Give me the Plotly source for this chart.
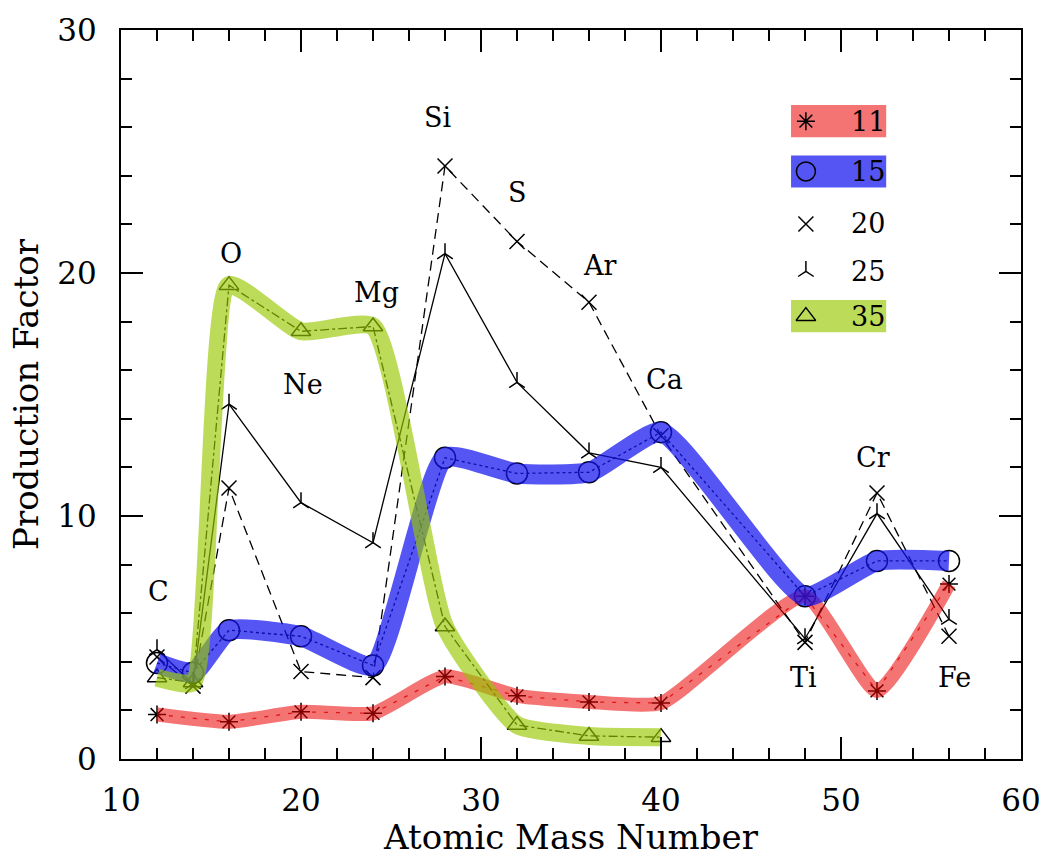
import plotly.graph_objects as go

# ---------------- data ----------------
mass = [12, 14, 16, 20, 24, 28, 32, 36, 40, 48, 52, 56]
pf_11 = [1.83, None, 1.53, 1.94, 1.88, 3.4, 2.6, 2.35, 2.3, 6.7, 2.8, 7.2]
pf_15 = [3.95, 3.55, 5.3, 5.05, 3.85, 12.4, 11.75, 11.8, 13.45, 6.7, 8.15, 8.15]
pf_20 = [4.2, 3.0, 11.15, 3.6, 3.35, 24.4, 21.3, 18.8, 13.3, 4.8, 10.95, 5.05]
pf_25 = [4.5, 3.1, 14.6, 10.55, 8.9, 20.8, 15.5, 12.6, 12.0, 4.95, 10.1, 5.75]
pf_35 = [3.35, 3.15, 19.5, 17.6, 17.8, 5.45, 1.4, 0.95, 0.9, None, None, None]

series_names = ["11", "15", "20", "25", "35"]
series_vals = [pf_11, pf_15, pf_20, pf_25, pf_35]

elements = ["C", "O", "Ne", "Mg", "Si", "S", "Ar", "Ca", "Ti", "Cr", "Fe"]
elem_x = [12.1, 16.1, 20.1, 24.2, 27.6, 32.0, 36.6, 40.2, 47.9, 51.8, 56.3]
elem_y = [6.9, 20.8, 15.4, 19.2, 26.4, 23.3, 20.3, 15.6, 3.35, 12.4, 3.35]

# ---------------- styles ----------------
FONT = "DejaVu Serif"
line_dash = {"11": "4px,8px", "15": "dot", "20": "10px,6px", "25": "solid", "35": "dashdot"}
line_col = {"11": "rgba(200,0,0,0.8)", "15": "black", "20": "black", "25": "black", "35": "black"}
symbols = {"11": "asterisk-open", "15": "circle-open", "20": "x-thin-open",
           "25": "y-up-open", "35": "triangle-up-open"}
msize = {"11": 15, "15": 21, "20": 15, "25": 13, "35": 17}
band_color = {"11": "rgba(235,0,0,0.55)", "15": "rgba(20,20,240,0.72)",
              "35": "rgba(150,200,0,0.65)"}
band_width = {"11": 14, "15": 20, "35": 18}

fig = go.Figure()

# thin original lines + markers
for name, vals in zip(series_names, series_vals):
    fig.add_trace(go.Scatter(
        x=mass, y=vals, mode="lines+markers", name=name, connectgaps=True,
        line=dict(color=line_col[name], width=1.3, dash=line_dash[name]),
        marker=dict(symbol=symbols[name], size=msize[name], color="black",
                    line=dict(color="black", width=1.5)),
        showlegend=False, hoverinfo="skip"))

# highlighter bands on top
for name, vals in zip(series_names, series_vals):
    if name in band_color:
        fig.add_trace(go.Scatter(
            x=mass, y=vals, mode="lines", connectgaps=True,
            line=dict(color=band_color[name], width=band_width[name],
                      shape="spline", smoothing=0.5),
            showlegend=False, hoverinfo="skip"))

# element labels
for el, ex, ey in zip(elements, elem_x, elem_y):
    fig.add_annotation(x=ex, y=ey, text=el, showarrow=False,
                       font=dict(family=FONT, size=27, color="black"))

# ---------------- custom legend ----------------
leg_y = [0.875, 0.806, 0.734, 0.669, 0.6075]
leg_mx = 0.761
leg_tx = 0.851
for name, ly in zip(series_names, leg_y):
    if name in band_color:
        fig.add_shape(type="rect", xref="paper", yref="paper",
                      x0=0.7445, x1=0.8502, y0=ly - 0.022, y1=ly + 0.022,
                      fillcolor=band_color[name], line=dict(width=0), layer="below")
    fig.add_trace(go.Scatter(
        x=[leg_mx], y=[ly], xaxis="x2", yaxis="y2", mode="markers",
        marker=dict(symbol=symbols[name], size=msize[name] if name != "15" else 19,
                    color="black", line=dict(color="black", width=1.5)),
        showlegend=False, hoverinfo="skip"))
    fig.add_annotation(xref="paper", yref="paper", x=leg_tx, y=ly, text=name,
                       showarrow=False, xanchor="right", yanchor="middle",
                       font=dict(family=FONT, size=27, color="black"))

axis_common = dict(
    ticks="inside", ticklen=22, tickwidth=2, tickcolor="black",
    showline=True, linewidth=2, linecolor="black", mirror="ticks",
    showgrid=False, zeroline=False,
    tickfont=dict(family=FONT, size=31, color="black"),
    minor=dict(ticks="inside", ticklen=11, tickwidth=2, tickcolor="black", dtick=2),
)

fig.update_layout(
    width=1053, height=857,
    margin=dict(l=121, r=24, t=24, b=89),
    paper_bgcolor="white", plot_bgcolor="white",
    xaxis=dict(range=[10, 60], tick0=10, dtick=10, ticklabelstandoff=13,
               title=dict(text="Atomic Mass Number", standoff=3,
                          font=dict(family=FONT, size=34, color="black")),
               **axis_common),
    yaxis=dict(range=[0, 30], tick0=0, dtick=10, ticklabelstandoff=16,
               title=dict(text="Production Factor", standoff=8,
                          font=dict(family=FONT, size=34, color="black")),
               **axis_common),
    xaxis2=dict(overlaying="x", anchor="y2", range=[0, 1], visible=False, fixedrange=True),
    yaxis2=dict(overlaying="y", anchor="x2", range=[0, 1], visible=False, fixedrange=True),
    showlegend=False,
)

fig.write_html("out.html")
